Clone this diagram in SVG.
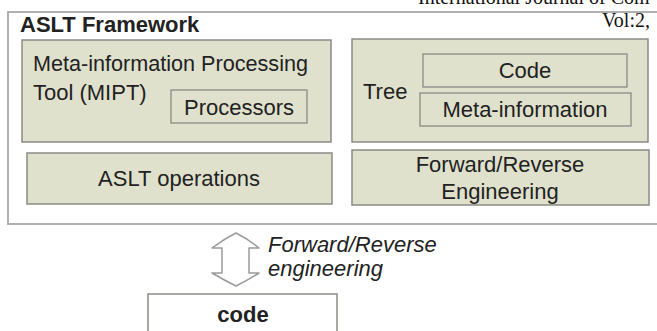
<svg xmlns="http://www.w3.org/2000/svg" width="657" height="331" viewBox="0 0 657 331">
<style>
.box{fill:#dfe1cc;stroke:#8a8a86;stroke-width:1.5}
.inner{fill:#dfe1cc;stroke:#8a8a86;stroke-width:1.3}
.t{font-family:"Liberation Sans",Arial,sans-serif;font-size:22px;fill:#222}
.c{text-anchor:middle}
.serif{font-family:"Liberation Serif","Times New Roman",serif;font-size:20px;fill:#111}
</style>
<rect width="657" height="331" fill="#fff"/>
<text class="serif" x="418" y="4" font-size="21">International Journal of Com</text>
<g id="framework">
<rect x="8" y="12" width="700" height="212" fill="#fff" stroke="#b0b0b0" stroke-width="2"/>
<text class="t" x="20" y="32" font-weight="bold" font-size="22.5">ASLT Framework</text>
</g>
<text class="serif" x="602" y="27">Vol:2,</text>
<g id="mipt">
<rect class="box" x="22" y="40" width="309" height="102"/>
<text class="t" x="33" y="71" textLength="275" lengthAdjust="spacingAndGlyphs">Meta-information Processing</text>
<text class="t" x="33" y="100">Tool (MIPT)</text>
</g>
<g id="processors">
<rect class="inner" x="171" y="90" width="136" height="33"/>
<text class="t c" x="239" y="115">Processors</text>
</g>
<g id="tree">
<rect class="box" x="352" y="39" width="296" height="103"/>
<text class="t" x="363" y="99">Tree</text>
</g>
<g id="code-inner">
<rect class="inner" x="423" y="54" width="204" height="33"/>
<text class="t c" x="525" y="78">Code</text>
</g>
<g id="meta">
<rect class="inner" x="420" y="93" width="211" height="33"/>
<text class="t c" x="525" y="117">Meta-information</text>
</g>
<g id="aslt-ops">
<rect class="box" x="27" y="153" width="305" height="51"/>
<text class="t c" x="179" y="186">ASLT operations</text>
</g>
<g id="fre">
<rect class="box" x="352" y="150" width="297" height="55"/>
<text class="t c" x="500" y="172">Forward/Reverse</text>
<text class="t c" x="500" y="199">Engineering</text>
</g>
<g id="connectors">
<path d="M236 233 Q248 239 259 248 L249 248 L249 273 L259 273 Q248 280 236 286 Q224 280 212 273 L222 273 L222 248 L212 248 Q224 239 236 233 Z" fill="#fff" stroke="#9a9a9a" stroke-width="1.5" stroke-linejoin="round"/>
<text class="t" x="268" y="252" font-style="italic">Forward/Reverse</text>
<text class="t" x="268" y="276" font-style="italic">engineering</text>
</g>
<g id="code">
<path d="M148 331 L148 294 L337 294 L337 331" fill="#fff" stroke="#8a8a86" stroke-width="1.5"/>
<text class="t c" x="243" y="322" font-weight="bold">code</text>
</g>
</svg>
